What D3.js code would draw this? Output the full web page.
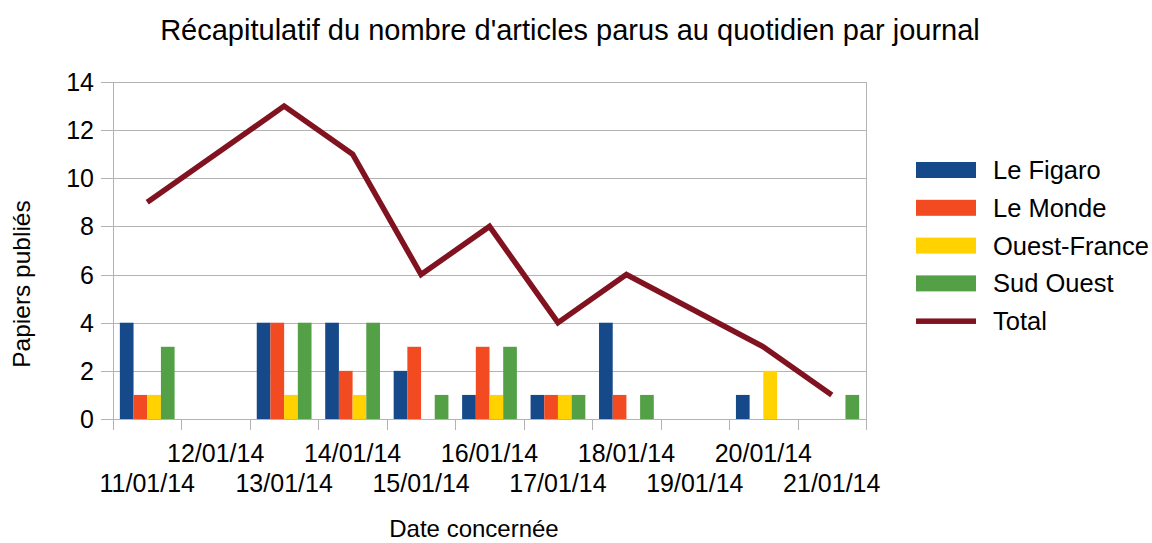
<!DOCTYPE html>
<html>
<head>
<meta charset="utf-8">
<script src="https://cdn.jsdelivr.net/npm/d3@7"></script>
<style>
  html, body { margin: 0; padding: 0; background: #fff; }
  svg { display: block; font-family: 'Liberation Sans', Arial, sans-serif; }
</style>
</head>
<body>
<svg id="chart" width="1152" height="543"></svg>
<script>
'use strict';

/* ── data ────────────────────────────────── */
const dates   = ['11/01/14','12/01/14','13/01/14','14/01/14','15/01/14','16/01/14',
                 '17/01/14','18/01/14','19/01/14','20/01/14','21/01/14'];
const journaux = ['Le Figaro','Le Monde','Ouest-France','Sud Ouest'];
const figaro  = [4, 0, 4, 4, 2, 1, 1, 4, 0, 1, 0];
const monde   = [1, 0, 4, 2, 3, 3, 1, 1, 0, 0, 0];
const ouestFr = [1, 0, 1, 1, 0, 1, 1, 0, 0, 2, 0];
const sudOu   = [3, 0, 4, 4, 1, 3, 1, 1, 0, 0, 1];
const total   = [9, null, 13, 11, 6, 8, 4, 6, null, 3, 1];
const yTicks  = [0, 2, 4, 6, 8, 10, 12, 14];

/* ── palette ─────────────────────────────── */
const colors = ['#15498a', '#f24b22', '#ffd200', '#54a046'];
const lineColor = '#80131f';
const gridColor = '#b3b3b3';

const series = [figaro, monde, ouestFr, sudOu];

/* ── layout ──────────────────────────────── */
const L = 113, R = 866, T = 82, B = 419;
const svg = d3.select('#chart');

const x = d3.scaleBand().domain(dates).range([L, R]).paddingInner(0).paddingOuter(0);
const xs = d3.scaleBand().domain(d3.range(4)).range([0, x.bandwidth()]).paddingInner(0).paddingOuter(0.5);
const y = d3.scaleLinear().domain([0, 14]).range([B, T]);

/* ── grid ────────────────────────────────── */
svg.append('g').selectAll('line').data(yTicks).join('line')
  .attr('x1', L - 12).attr('x2', R)
  .attr('y1', d => Math.round(y(d)) + 0.5).attr('y2', d => Math.round(y(d)) + 0.5)
  .attr('stroke', gridColor).attr('stroke-width', 1);

// y axis line + right border
svg.append('line').attr('x1', L + 0.5).attr('x2', L + 0.5).attr('y1', T).attr('y2', B + 11)
  .attr('stroke', gridColor);
svg.append('line').attr('x1', R + 0.5).attr('x2', R + 0.5).attr('y1', T).attr('y2', B + 11)
  .attr('stroke', gridColor);

// x category ticks (boundaries)
const bounds = dates.map(d => x(d)).concat([R]);
svg.append('g').selectAll('line').data(bounds).join('line')
  .attr('x1', d => Math.round(d) + 0.5).attr('x2', d => Math.round(d) + 0.5)
  .attr('y1', B).attr('y2', B + 11)
  .attr('stroke', gridColor);

/* ── y tick labels ───────────────────────── */
svg.append('g').selectAll('text').data(yTicks).join('text')
  .attr('x', 94).attr('y', d => y(d) + 9)
  .attr('text-anchor', 'end')
  .attr('font-size', '25px').attr('fill', '#000')
  .text(d => d);

/* ── x tick labels (staggered) ───────────── */
svg.append('g').selectAll('text').data(dates).join('text')
  .attr('x', d => x(d) + x.bandwidth() / 2)
  .attr('y', (d, i) => i % 2 === 1 ? 462 : 492)
  .attr('text-anchor', 'middle')
  .attr('font-size', '25px').attr('fill', '#000')
  .text(d => d);

/* ── bars ────────────────────────────────── */
series.forEach((vals, si) => {
  svg.append('g').selectAll('rect').data(vals).join('rect')
    .attr('x', (d, i) => x(dates[i]) + xs(si))
    .attr('width', xs.bandwidth())
    .attr('y', d => y(d))
    .attr('height', d => y(0) - y(d))
    .attr('fill', colors[si]);
});

/* ── total line ──────────────────────────── */
const pts = total.map((v, i) => ({ d: dates[i], v })).filter(p => p.v !== null);
svg.append('path').datum(pts)
  .attr('d', d3.line().x(p => x(p.d) + x.bandwidth() / 2).y(p => y(p.v)))
  .attr('fill', 'none')
  .attr('stroke', lineColor)
  .attr('stroke-width', 5.5)
  .attr('stroke-linejoin', 'miter');

/* ── titles ──────────────────────────────── */
svg.append('text').attr('x', 570).attr('y', 40).attr('text-anchor', 'middle')
  .attr('font-size', '29px').text("Récapitulatif du nombre d'articles parus au quotidien par journal");

svg.append('text').attr('transform', 'translate(30,284) rotate(-90)').attr('text-anchor', 'middle')
  .attr('font-size', '24.5px').text('Papiers publiés');

svg.append('text').attr('x', 474).attr('y', 537).attr('text-anchor', 'middle')
  .attr('font-size', '24px').text('Date concernée');

/* ── legend ──────────────────────────────── */
const legendItems = journaux.concat(['Total']);
const lg = svg.append('g').selectAll('g').data(legendItems).join('g')
  .attr('transform', (d, i) => `translate(916,${170 + i * 37.8})`);

lg.append('rect')
  .attr('x', 0).attr('width', 60)
  .attr('y', (d, i) => i < 4 ? -8 : -2.75)
  .attr('height', (d, i) => i < 4 ? 16 : 5.5)
  .attr('fill', (d, i) => i < 4 ? colors[i] : lineColor);

lg.append('text')
  .attr('x', 77).attr('y', 9)
  .attr('font-size', '25.5px')
  .text(d => d);
</script>
</body>
</html>
